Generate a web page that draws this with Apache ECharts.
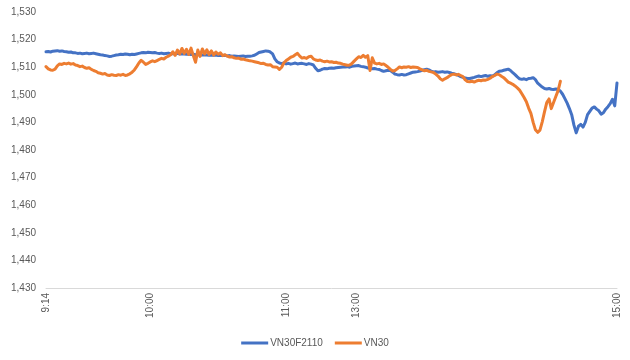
<!DOCTYPE html>
<html>
<head>
<meta charset="utf-8">
<script src="https://cdn.jsdelivr.net/npm/echarts@6/dist/echarts.min.js"></script>
<style>html,body{margin:0;padding:0;background:#fff}#c{width:630px;height:360px}</style>
</head>
<body>
<div id="c"></div>
<script>
// sessions (minute categories)
var morningStart = '9:14', morningEnd = '11:30';
var afternoonStart = '13:00', afternoonEnd = '14:54';
var closeLabel = '15:00';
var tickLabels = ['9:14', '10:00', '11:00', '13:00', '15:00'];
var seriesNames = ['VN30F2110', 'VN30'];

var vn30f = [
1515.6,1515.7,1515.5,1515.8,1515.9,1516.0,1515.8,1515.9,1515.7,1515.6,
1515.4,1515.5,1515.2,1515.2,1515.0,1515.1,1514.9,1515.0,1515.1,1514.9,
1515.0,1515.1,1514.9,1514.7,1514.5,1514.4,1514.2,1514.1,1513.9,1514.0,
1514.2,1514.4,1514.5,1514.7,1514.6,1514.8,1514.7,1514.5,1514.7,1514.6,
1514.8,1515.0,1515.2,1515.3,1515.2,1515.4,1515.3,1515.2,1515.3,1515.1,
1515.0,1515.1,1514.9,1515.0,1515.1,1514.9,1515.0,1514.9,1515.0,1514.8,
1514.9,1514.8,1514.7,1514.8,1514.6,1514.7,1514.5,1514.6,1514.5,1514.4,
1514.5,1514.4,1514.3,1514.4,1514.3,1514.4,1514.2,1514.3,1514.2,1514.3,
1514.1,1514.2,1514.0,1514.1,1514.0,1513.9,1514.0,1514.1,1513.9,1514.0,
1514.0,1514.1,1514.3,1514.8,1515.3,1515.5,1515.7,1515.9,1515.8,1515.5,
1514.8,1513.0,1512.0,1511.5,1511.3,1511.6,1511.2,1511.4,1511.1,1511.3,
1511.5,1511.2,1511.3,1511.4,1511.2,1511.0,1511.3,1511.1,1510.8,1509.6,
1508.7,1508.9,1509.3,1509.5,1509.4,1509.6,1509.7,1509.6,1509.8,1509.9,
1510.0,1510.1,1510.1,1510.2,1510.0,1510.3,1510.4,1510.5,1510.6,1510.3,
1510.2,1510.0,1509.7,1509.6,1509.4,1509.5,1509.3,1509.2,1508.8,1508.5,
1508.7,1508.9,1508.8,1508.2,1507.5,1507.3,1507.2,1507.4,1507.2,1507.3,
1507.6,1507.9,1508.2,1508.3,1508.4,1508.6,1508.9,1509.1,1509.3,1509.0,
1508.6,1508.3,1508.4,1508.2,1508.3,1508.4,1508.2,1508.3,1508.1,1507.8,
1507.6,1507.4,1507.0,1506.6,1506.3,1506.1,1505.9,1505.9,1506.1,1506.3,
1506.6,1506.8,1506.6,1506.8,1507.0,1506.7,1506.9,1506.8,1507.2,1508.0,
1508.5,1508.6,1508.9,1509.1,1509.3,1508.8,1508.0,1507.3,1506.5,1505.8,
1505.6,1505.8,1505.5,1505.9,1506.0,1506.2,1505.5,1504.2,1503.5,1502.8,
1502.3,1502.1,1502.3,1502.0,1501.9,1502.1,1502.0,1501.3,1500.2,1498.6,
1497.0,1495.0,1492.8,1489.0,1486.2,1488.6,1489.3,1488.3,1490.0,1492.8,
1494.0,1495.2,1495.6,1494.8,1494.2,1493.0,1493.5,1494.8,1495.7,1496.8,
1498.4,1496.0,1504.3
];

var vn30 = [
1510.2,1509.4,1509.0,1508.9,1509.3,1510.5,1511.2,1511.0,1511.4,1511.2,
1511.5,1511.1,1511.3,1510.8,1510.6,1510.2,1510.4,1509.9,1509.6,1509.8,
1509.2,1508.8,1508.5,1508.0,1507.8,1507.5,1507.7,1507.2,1507.0,1507.3,
1507.1,1507.0,1507.3,1507.1,1507.4,1507.0,1507.2,1507.6,1508.2,1509.0,
1510.2,1511.5,1512.5,1511.8,1511.0,1511.4,1511.9,1512.3,1512.0,1512.4,
1512.8,1513.2,1513.0,1513.6,1514.0,1514.5,1515.6,1514.3,1516.2,1514.8,
1516.8,1515.0,1516.5,1514.6,1516.9,1514.2,1511.8,1516.2,1513.9,1516.6,
1514.8,1516.3,1514.6,1515.9,1514.4,1515.5,1514.7,1515.2,1514.2,1514.5,
1514.0,1513.7,1513.8,1513.4,1513.2,1513.3,1512.9,1513.0,1512.7,1512.5,
1512.3,1512.2,1512.0,1511.8,1511.6,1511.3,1511.4,1511.0,1510.8,1510.9,
1510.2,1510.1,1510.0,1509.2,1510.0,1511.6,1512.4,1513.0,1513.6,1513.9,
1514.5,1515.0,1514.0,1513.3,1513.5,1513.2,1513.8,1514.0,1513.0,1512.6,
1512.4,1512.6,1512.2,1512.0,1512.2,1511.9,1512.0,1511.7,1511.8,1511.5,
1511.4,1511.1,1510.9,1510.7,1510.8,1511.3,1512.2,1513.0,1513.8,1513.5,
1514.3,1513.6,1514.2,1508.8,1513.4,1511.5,1511.2,1511.4,1511.0,1511.2,
1510.6,1510.0,1509.2,1508.6,1508.8,1509.4,1510.1,1509.8,1510.1,1510.0,
1510.2,1509.9,1510.1,1510.0,1509.9,1509.4,1509.0,1508.7,1508.9,1508.5,
1508.3,1508.1,1507.5,1506.8,1505.8,1505.3,1505.8,1506.2,1506.8,1507.3,
1507.5,1507.2,1507.4,1507.0,1506.6,1505.4,1504.8,1504.7,1504.9,1504.6,
1505.0,1505.3,1505.1,1505.4,1505.3,1505.6,1506.0,1506.6,1507.0,1507.5,
1507.3,1506.7,1506.2,1505.4,1504.6,1504.2,1503.8,1503.2,1502.5,1501.7,
1500.4,1499.0,1497.5,1495.2,1493.3,1490.0,1487.3,1486.4,1487.2,1490.2,
1493.8,1497.2,1498.5,1495.0,1497.2,1499.4,1501.5,1504.9
];

function toMin(s){var p=s.split(':');return (+p[0])*60+(+p[1]);}
function fmt(m){var h=Math.floor(m/60),mm=m%60;return h+':'+(mm<10?'0':'')+mm;}
function minutes(a,b){var out=[];for(var m=toMin(a);m<=toMin(b);m++)out.push(fmt(m));return out;}
var categories = minutes(morningStart, morningEnd).concat(minutes(afternoonStart, afternoonEnd), [closeLabel]);

var chart = echarts.init(document.getElementById('c'), null, {renderer:'canvas'});
var font = 'Liberation Sans, Arial, sans-serif';
chart.setOption({
  animation: false,
  backgroundColor: '#ffffff',
  textStyle: {fontFamily: font},
  grid: {left: 46, right: 13, top: 12, bottom: 72, containLabel: false},
  legend: {
    data: seriesNames, top: 333, left: 'center',
    icon: 'rect', itemWidth: 27, itemHeight: 3, itemGap: 12,
    textStyle: {color: '#595959', fontSize: 10, fontFamily: font, padding: [0,0,0,-3]}
  },
  xAxis: {
    type: 'category', data: categories, boundaryGap: false,
    axisLine: {onZero: false, lineStyle: {color: '#d9d9d9', width: 1}},
    axisTick: {show: false},
    splitLine: {show: false},
    axisLabel: {
      rotate: 90, color: '#595959', fontSize: 10, fontFamily: font, margin: 5,
      interval: function(i, v){ return tickLabels.indexOf(v) >= 0; }
    }
  },
  yAxis: {
    type: 'value', min: 1430, max: 1530, interval: 10,
    axisLine: {show: false}, axisTick: {show: false}, splitLine: {show: false},
    axisLabel: {color: '#595959', fontSize: 10, fontFamily: font, margin: 10,
      formatter: function(v){ return v.toLocaleString('en-US'); }}
  },
  series: [
    {name: seriesNames[0], type: 'line', data: vn30f, showSymbol: false, symbol: 'none',
     lineStyle: {color: '#4472C4', width: 3, join: 'round', cap: 'round'}, itemStyle: {color: '#4472C4'}},
    {name: seriesNames[1], type: 'line', data: vn30, showSymbol: false, symbol: 'none',
     lineStyle: {color: '#ED7D31', width: 3, join: 'round', cap: 'round'}, itemStyle: {color: '#ED7D31'}}
  ]
});
</script>
</body>
</html>
